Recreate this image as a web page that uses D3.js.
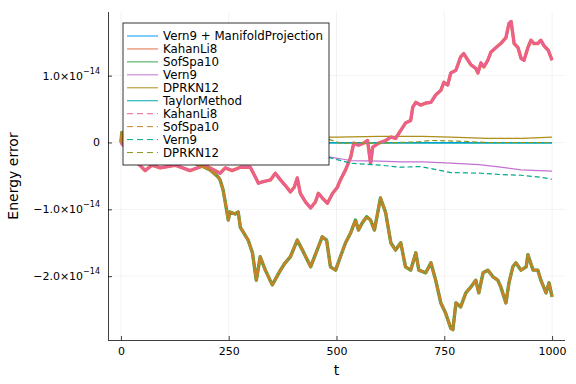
<!DOCTYPE html>
<html>
<head>
<meta charset="utf-8">
<script src="https://cdn.jsdelivr.net/npm/d3@7"></script>
<style>
  body { margin: 0; background: #fff; }
  svg text { font-family: "DejaVu Sans", sans-serif; fill: #000; }
</style>
</head>
<body>
<div id="chart"></div>
<script>
// energy error values are in units of 1e-14
const kahanLi8 = [[0,0],[16,-0.12],[33,-0.27],[56,-0.42],[72,-0.34],[91,-0.38],[126,-0.34],[160,-0.42],[195,-0.34],
  [230,-0.46],[242,-0.38],[258,-0.42],[277,-0.37],[300,-0.37],[312,-0.52],[319,-0.61],[328,-0.59],[347,-0.56],
  [358,-0.46],[370,-0.56],[381,-0.64],[393,-0.74],[402,-0.67],[409,-0.53],[416,-0.76],[428,-0.89],[440,-0.98],
  [451,-0.89],[458,-0.76],[467,-0.83],[479,-0.91],[491,-0.76],[502,-0.67],[509,-0.56],[521,-0.41],[533,-0.22],
  [540,-0.01],[551,-0.04],[563,-0.01],[572,0.03],[579,-0.31],[584,-0.07],[598,-0.01],[614,0.03],[626,0.08],
  [637,0.06],[649,0.18],[660,0.29],[672,0.33],[677,0.53],[684,0.60],[695,0.56],[707,0.59],[719,0.60],[730,0.71],
  [742,0.78],[749,0.90],[758,0.86],[765,1.04],[777,1.08],[788,1.28],[795,1.33],[805,1.23],[812,1.16],[823,1.11],
  [828,1.04],[835,1.19],[842,1.13],[851,1.23],[858,1.35],[870,1.42],[881,1.48],[893,1.57],[900,1.78],[905,1.81],
  [912,1.48],[921,1.42],[928,1.26],[935,1.23],[944,1.42],[951,1.53],[958,1.48],[967,1.48],[974,1.53],[981,1.45],
  [991,1.38],[1000,1.23]];

const sofSpa10 = [[0,0],[2,0.15],[9,-0.04],[21,-0.12],[56,-0.15],[91,-0.19],[126,-0.19],[160,-0.29],[184,-0.34],
  [207,-0.41],[226,-0.52],[230,-0.56],[237,-0.71],[244,-0.97],[249,-1.16],[253,-1.04],[265,-1.07],[272,-1.04],
  [277,-1.27],[295,-1.46],[305,-1.65],[314,-2.06],[323,-1.71],[335,-1.91],[351,-2.13],[370,-1.91],[381,-1.80],
  [393,-1.71],[409,-1.46],[421,-1.61],[440,-1.86],[458,-1.56],[467,-1.41],[477,-1.46],[486,-1.86],[498,-1.91],
  [509,-1.71],[521,-1.50],[533,-1.35],[544,-1.16],[551,-1.31],[560,-1.20],[570,-1.11],[579,-1.16],[588,-1.31],
  [602,-0.83],[614,-1.05],[626,-1.50],[637,-1.61],[649,-1.50],[660,-1.86],[672,-1.91],[684,-1.65],[691,-1.91],
  [707,-1.95],[719,-1.80],[730,-2.06],[742,-2.40],[753,-2.55],[765,-2.78],[770,-2.80],[777,-2.40],[788,-2.46],
  [800,-2.25],[812,-2.16],[823,-2.06],[830,-2.25],[840,-1.95],[851,-1.91],[863,-2.01],[874,-2.06],[881,-2.16],
  [893,-2.40],[900,-2.10],[909,-1.86],[916,-1.80],[928,-1.91],[940,-1.86],[944,-1.68],[956,-1.91],[967,-1.91],
  [974,-2.06],[986,-2.25],[993,-2.10],[1000,-2.31]];

const vern9 = [[0,0],[100,-0.05],[200,-0.1],[300,-0.15],[400,-0.19],[486,-0.22],[533,-0.27],[600,-0.28],
  [649,-0.29],[700,-0.29],[765,-0.31],[830,-0.33],[881,-0.37],[928,-0.41],[970,-0.42],[1000,-0.43]];
const vern9Dashed = [[0,0],[100,-0.05],[200,-0.1],[300,-0.15],[400,-0.19],[486,-0.23],[533,-0.31],[602,-0.34],
  [649,-0.37],[695,-0.36],[742,-0.42],[765,-0.45],[835,-0.46],[881,-0.48],[928,-0.49],[974,-0.52],[1000,-0.55]];
const dprkn12 = [[0,0],[20,0.06],[60,0.08],[200,0.09],[400,0.08],[500,0.08],[600,0.09],[700,0.09],[765,0.08],
  [850,0.06],[930,0.06],[1000,0.08]];
const dprkn12Dashed = [[0,0],[100,0.02],[480,0.05],[510,-0.01],[600,-0.01],[690,0.01],[720,0.03],[780,0.02],
  [850,0],[1000,0]];
const taylor = [[0,0],[250,0],[500,-0.01],[750,-0.01],[1000,-0.01]];
const manifold = [[0,0],[500,0],[1000,0]];

const xTicks = [0, 250, 500, 750, 1000];
const yTicks = [1, 0, -1, -2];
const yTickLabels = ["1.0×10", "0", "−1.0×10", "−2.0×10"];

const series = [
  { name: "Vern9 + ManifoldProjection", color: "#009AFA", data: manifold, dashed: false },
  { name: "KahanLi8", color: "#E36F47", data: kahanLi8, dashed: false, noisy: true },
  { name: "SofSpa10", color: "#3EA44E", data: sofSpa10, dashed: false, noisy: true },
  { name: "Vern9", color: "#C371D2", data: vern9, dashed: false },
  { name: "DPRKN12", color: "#AC8E18", data: dprkn12, dashed: false },
  { name: "TaylorMethod", color: "#00AAAE", data: taylor, dashed: false },
  { name: "KahanLi8", color: "#ED5E93", data: kahanLi8, dashed: true, noisy: true },
  { name: "SofSpa10", color: "#C68225", data: sofSpa10, dashed: true, noisy: true },
  { name: "Vern9", color: "#00A98D", data: vern9Dashed, dashed: true },
  { name: "DPRKN12", color: "#8E971D", data: dprkn12Dashed, dashed: true }
];

const width = 576, height = 384;
const margin = { left: 108, top: 12, right: 11, bottom: 44 };

const svg = d3.select("#chart").append("svg")
  .attr("width", width).attr("height", height);

const x = d3.scaleLinear().domain([-30, 1030]).range([margin.left, width - margin.right]);
const y = d3.scaleLinear().domain([-2.955, 1.952]).range([height - margin.bottom, margin.top]);

// grid
svg.append("g").selectAll("line").data(xTicks).join("line")
  .attr("x1", d => x(d)).attr("x2", d => x(d))
  .attr("y1", margin.top).attr("y2", height - margin.bottom)
  .attr("stroke", "#000").attr("stroke-opacity", 0.1).attr("stroke-width", 0.5);
svg.append("g").selectAll("line").data(yTicks).join("line")
  .attr("x1", margin.left).attr("x2", width - margin.right)
  .attr("y1", d => y(d)).attr("y2", d => y(d))
  .attr("stroke", "#000").attr("stroke-opacity", 0.1).attr("stroke-width", 0.5);

// lines
const line = d3.line().x(d => x(d[0])).y(d => y(d[1]));
const plot = svg.append("g");
series.forEach(s => {
  const p = plot.append("path")
    .attr("d", line(s.data))
    .attr("fill", "none")
    .attr("stroke", s.color)
    .attr("stroke-linejoin", "round");
  if (s.noisy) {
    // the real series jitter so fast that both styles fill a thin band
    p.attr("stroke-width", s.dashed ? 2.8 : 3.4);
    if (s.dashed) p.attr("stroke-dasharray", "8,0.8");
  } else {
    p.attr("stroke-width", 1.2);
    if (s.dashed) p.attr("stroke-dasharray", "5,3");
  }
});

// axes
const xAxis = svg.append("g")
  .attr("transform", `translate(0,${height - margin.bottom})`)
  .call(d3.axisBottom(x).tickValues(xTicks).tickSize(-4).tickPadding(7).tickFormat(d3.format("d")));
const yAxis = svg.append("g")
  .attr("transform", `translate(${margin.left},0)`)
  .call(d3.axisLeft(y).tickValues(yTicks).tickSize(-4).tickPadding(7).tickFormat(""));
[xAxis, yAxis].forEach(a => {
  a.select(".domain").attr("stroke", "#000").attr("stroke-opacity", 0.75);
  a.selectAll(".tick line").attr("stroke", "#000").attr("stroke-opacity", 0.75);
});
xAxis.select(".domain").attr("d", `M${margin.left},0.5H${width - margin.right}`);
yAxis.select(".domain").attr("d", `M0.5,${margin.top}V${height - margin.bottom}`);
xAxis.selectAll(".tick text").attr("font-size", 11).attr("font-family", "DejaVu Sans").attr("fill", "#000");

// y tick labels with exponents
yTicks.forEach((v, i) => {
  const t = svg.append("text")
    .attr("x", margin.left - 8).attr("y", y(v) + 4)
    .attr("text-anchor", "end").attr("font-size", 11);
  t.append("tspan").text(yTickLabels[i]);
  if (v !== 0) t.append("tspan").attr("font-size", 8).attr("dy", -6).text("−14");
});

// axis titles
svg.append("text").attr("x", x(500)).attr("y", 375)
  .attr("text-anchor", "middle").attr("font-size", 14).text("t");
svg.append("text").attr("transform", `translate(18,${(margin.top + height - margin.bottom) / 2}) rotate(-90)`)
  .attr("text-anchor", "middle").attr("font-size", 14).text("Energy error");

// legend
const lg = svg.append("g").attr("transform", "translate(123,23)");
lg.append("rect").attr("x", 0).attr("y", 0).attr("width", 206).attr("height", 142)
  .attr("fill", "#fff").attr("stroke", "#000").attr("stroke-opacity", 0.8).attr("stroke-width", 1);
series.forEach((s, i) => {
  const yy = 13 + i * 12.95;
  lg.append("line").attr("x1", 4).attr("x2", 35).attr("y1", yy).attr("y2", yy)
    .attr("stroke", s.color).attr("stroke-width", 1)
    .attr("stroke-dasharray", s.dashed ? "6,4" : null);
  lg.append("text").attr("x", 40).attr("y", yy + 4).attr("font-size", 11.8).text(s.name);
});
</script>
</body>
</html>
